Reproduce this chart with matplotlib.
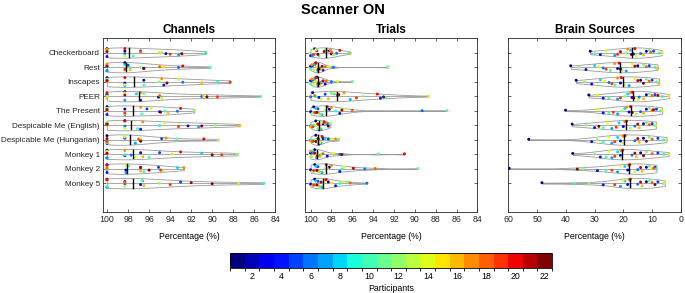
"""
Scanner ON: per-participant channel / trial / brain-source retention as violins.
"""

from __future__ import annotations

import matplotlib

matplotlib.use("Agg")
import matplotlib.pyplot as plt
import numpy as np
from matplotlib.colors import BoundaryNorm
from matplotlib.cm import ScalarMappable

plt.rcParams["font.family"] = ["Liberation Sans", "DejaVu Sans"]

CONDITIONS = [
    "Checkerboard", "Rest", "Inscapes", "PEER", "The Present",
    "Despicable Me (English)", "Despicable Me (Hungarian)",
    "Monkey 1", "Monkey 2", "Monkey 5",
]
N_PARTICIPANTS = 22

# values per condition, listed in participant order (1..22)
channels = [
    [100, 98.3, 94.4, 100, 96.8, 98.3, 93.2, 100, 90.6, 97.5, 100, 94.8, 98.3, 100, 95.0, 92.8, 100, 96.8, 94.0, 98.3, 100, 92.9],
    [98.3, 100, 96.5, 100, 98.0, 93.2, 100, 98.3, 97.8, 90.2, 100, 96.8, 98.3, 100, 94.6, 97.8, 100, 95.0, 98.3, 92.8, 100, 96.5],
    [100, 96.5, 98.3, 94.6, 100, 92.8, 98.3, 100, 89.5, 96.5, 100, 95.0, 98.3, 93.2, 100, 91.0, 94.8, 100, 88.3, 98.3, 100, 94.3],
    [98.3, 100, 95.1, 96.8, 100, 91.0, 98.3, 97.2, 100, 85.4, 96.5, 100, 94.8, 98.3, 90.8, 100, 96.8, 95.0, 89.5, 100, 98.3, 90.5],
    [100, 98.3, 95.0, 100, 96.2, 93.3, 98.3, 100, 94.5, 96.7, 100, 91.7, 98.3, 95.8, 100, 94.2, 96.8, 100, 98.3, 93.0, 100, 94.9],
    [98.3, 100, 92.3, 96.8, 100, 98.3, 91.3, 100, 95.0, 97.1, 100, 89.7, 98.3, 94.5, 100, 87.4, 96.6, 100, 93.2, 98.3, 100, 91.0],
    [100, 98.3, 96.8, 100, 94.8, 100, 97.3, 98.3, 96.8, 100, 93.4, 100, 89.4, 98.3, 96.8, 100, 94.4, 97.0, 100, 90.8, 100, 96.8],
    [100, 96.8, 98.3, 100, 95.0, 97.7, 100, 91.0, 98.3, 96.0, 100, 87.6, 97.3, 100, 93.8, 96.6, 98.3, 100, 89.1, 93.0, 100, 90.0],
    [100, 96.8, 98.2, 100, 95.1, 100, 98.2, 93.3, 100, 96.5, 97.9, 100, 94.7, 98.2, 100, 96.8, 92.7, 100, 94.9, 100, 96.8, 96.0],
    [100, 98.3, 96.8, 100, 93.0, 98.3, 100, 96.6, 85.1, 100, 96.7, 95.0, 98.3, 100, 87.5, 96.5, 100, 98.3, 94.0, 100, 92.0, 90.0],
]

trials = [
    [99.6, 98.3, 98.0, 100, 99.4, 97.5, 99.8, 98.5, 96.3, 99.2, 98.6, 100, 97.8, 99.5, 98.4, 96.2, 98.1, 98.0, 99.7, 97.2, 98.7, 99.3],
    [99.5, 100, 99.1, 98.8, 99.8, 97.8, 99.3, 99.6, 98.9, 100, 92.6, 99.2, 99.7, 98.2, 99.4, 99.0, 99.9, 98.6, 99.3, 99.5, 98.9, 99.2],
    [99.4, 100, 99.0, 98.6, 99.8, 98.0, 99.3, 99.6, 98.9, 100, 96.0, 99.2, 99.7, 97.4, 99.5, 99.1, 99.9, 98.5, 99.3, 99.5, 98.8, 99.2],
    [99.8, 97.3, 99.2, 93.3, 98.6, 100, 96.2, 97.7, 99.5, 92.8, 98.0, 95.0, 99.0, 97.6, 88.7, 98.3, 96.8, 99.6, 95.6, 93.6, 97.4, 93.0],
    [99.7, 98.2, 100, 97.2, 99.3, 89.3, 98.9, 99.5, 97.6, 99.0, 86.9, 98.6, 99.8, 96.8, 98.5, 99.2, 98.0, 96.0, 99.6, 98.4, 97.0, 99.4],
    [99.5, 98.8, 100, 99.2, 98.4, 99.7, 99.0, 98.6, 99.9, 99.3, 98.1, 99.6, 99.1, 98.9, 99.4, 100, 98.5, 99.2, 99.8, 98.7, 99.3, 98.3],
    [99.5, 98.8, 100, 99.2, 98.3, 99.7, 99.0, 98.6, 99.9, 99.3, 97.3, 99.6, 99.1, 98.0, 99.4, 100, 97.6, 99.2, 99.8, 98.9, 99.3, 99.5],
    [99.6, 100, 99.2, 98.4, 99.8, 97.2, 99.4, 99.7, 99.0, 100, 93.5, 99.3, 99.9, 97.8, 99.5, 99.1, 100, 98.8, 99.4, 91.0, 99.6, 97.0],
    [99.6, 98.2, 100, 97.2, 99.3, 94.8, 98.9, 99.5, 97.0, 99.1, 89.7, 98.6, 99.8, 96.8, 98.4, 99.2, 98.0, 93.8, 99.7, 98.5, 95.9, 99.4],
    [99.6, 98.3, 100, 97.6, 99.3, 94.6, 98.9, 99.5, 97.2, 99.1, 96.5, 98.8, 99.8, 96.9, 98.0, 99.2, 98.6, 96.2, 99.7, 98.5, 99.0, 99.4],
]

brain_sources = [
    [31.5, 12.0, 16.5, 28.0, 9.5, 14.0, 23.0, 17.5, 7.5, 30.0, 11.0, 19.0, 15.5, 26.0, 6.7, 13.0, 18.5, 10.5, 22.0, 16.0, 21.0, 17.2],
    [38.3, 15.0, 22.0, 33.0, 11.0, 27.0, 19.0, 30.0, 9.0, 24.5, 13.0, 35.5, 20.5, 17.0, 28.5, 8.1, 23.0, 12.0, 26.0, 21.5, 16.0, 21.0],
    [36.4, 14.0, 21.0, 31.0, 10.0, 25.0, 18.0, 28.0, 8.5, 23.0, 12.0, 33.5, 19.5, 16.0, 26.5, 7.6, 22.0, 11.0, 24.0, 20.7, 15.0, 13.0],
    [32.0, 12.0, 17.0, 27.0, 9.0, 14.5, 22.0, 18.5, 6.5, 25.0, 11.0, 19.5, 15.0, 29.0, 4.2, 13.0, 17.5, 10.0, 21.0, 16.8, 8.0, 16.4],
    [40.1, 12.0, 18.0, 27.0, 8.5, 14.0, 22.0, 19.5, 7.0, 25.0, 11.0, 20.5, 15.5, 29.0, 6.5, 13.0, 18.8, 10.0, 23.5, 17.5, 9.5, 16.9],
    [37.8, 13.0, 20.0, 30.0, 10.0, 16.0, 24.0, 21.5, 9.0, 27.0, 12.0, 33.0, 17.5, 25.5, 8.7, 14.5, 19.5, 11.0, 22.5, 18.9, 15.0, 28.5],
    [52.9, 13.0, 21.0, 31.0, 8.0, 16.0, 24.0, 22.0, 6.0, 27.0, 11.0, 29.0, 20.0, 25.0, 5.0, 14.5, 20.2, 10.0, 23.0, 19.4, 15.0, 12.0],
    [37.6, 14.0, 21.0, 28.0, 8.0, 17.0, 24.0, 22.0, 6.0, 26.0, 12.0, 30.0, 20.6, 25.0, 4.2, 15.5, 20.8, 10.0, 23.0, 20.2, 16.0, 13.0],
    [59.7, 12.0, 18.5, 29.0, 9.0, 15.0, 22.0, 19.5, 8.5, 26.0, 11.0, 34.0, 16.0, 21.0, 10.0, 13.5, 18.2, 9.5, 24.0, 17.8, 14.0, 36.0],
    [48.3, 12.0, 18.5, 27.0, 8.0, 15.0, 21.0, 19.5, 6.0, 37.0, 11.0, 32.0, 17.5, 20.0, 5.6, 13.5, 18.0, 10.0, 23.0, 17.6, 14.0, 9.0],
]

PANELS = [
    ("Channels", channels, (100.4, 84), np.arange(100, 83, -2)),
    ("Trials", trials, (100.55, 84), np.arange(100, 83, -2)),
    ("Brain Sources", brain_sources, (60, 0), np.arange(60, -1, -10)),
]
AX_LEFTS = [0.150, 0.445, 0.742]
AX_WIDTH = 0.252
AX_BOTTOM = 0.276
AX_HEIGHT = 0.594

HALF_WIDTH = 0.36
BW_SCALE = 1.5
OUTLINE = "#9a9a9a"


def _kde(values: np.ndarray, grid: np.ndarray) -> np.ndarray:
    """Gaussian KDE (widened Silverman bandwidth), scaled to a peak of 1."""
    n = len(values)
    q75, q25 = np.percentile(values, [75, 25])
    sig = min(values.std(ddof=1), (q75 - q25) / 1.34)
    if sig <= 0:
        sig = values.std(ddof=1)
    bw = BW_SCALE * 0.9 * sig * n ** -0.2
    dens = np.exp(-0.5 * ((grid[:, None] - values[None, :]) / bw) ** 2).sum(axis=1)
    return dens / dens.max()


def draw_violins(ax, rows, cmap) -> None:
    # deterministic spread of the dots across the violin width
    spread = np.array([((i * 7) % N_PARTICIPANTS) / (N_PARTICIPANTS - 1) * 2 - 1
                       for i in range(N_PARTICIPANTS)])
    colors = [cmap(i) for i in range(N_PARTICIPANTS)]
    for k, vals in enumerate(rows):
        y0 = k + 1
        v = np.asarray(vals, dtype=float)
        grid = np.linspace(v.min(), v.max(), 200)
        d = _kde(v, grid)
        ax.fill_between(grid, y0 - HALF_WIDTH * d, y0 + HALF_WIDTH * d,
                        facecolor="white", edgecolor=OUTLINE, linewidth=0.6, zorder=2)
        ax.plot([v.min(), v.max()], [y0, y0], color=OUTLINE, linewidth=0.6, zorder=2)
        dv = np.interp(v, grid, d)
        ys = y0 + spread * HALF_WIDTH * dv * 0.85
        ax.scatter(v, ys, s=4.5, c=colors, marker="o", linewidths=0, zorder=3)
        med = np.median(v)
        hl = 0.85 * HALF_WIDTH * np.interp(med, grid, d)
        ax.plot([med, med], [y0 - hl, y0 + hl], color="black", linewidth=1.0, zorder=4)


def main() -> None:
    fig = plt.figure(figsize=(6.85, 2.93), dpi=100)
    cmap = plt.get_cmap("jet", N_PARTICIPANTS)

    for i, (title, rows, xlim, xticks) in enumerate(PANELS):
        ax = fig.add_axes([AX_LEFTS[i], AX_BOTTOM, AX_WIDTH, AX_HEIGHT])
        draw_violins(ax, rows, cmap)
        ax.set_xlim(*xlim)
        ax.set_ylim(12, 0)
        ax.set_xticks(xticks)
        ax.set_yticks(np.arange(1, len(CONDITIONS) + 1))
        if i == 0:
            ax.set_yticklabels(CONDITIONS, fontsize=5.9)
        else:
            ax.set_yticklabels([])
        ax.tick_params(direction="in", length=2, width=0.5, labelsize=6.3,
                       top=True, right=True, pad=2, colors="#262626")
        ax.tick_params(axis="y", labelsize=5.9)
        for sp in ax.spines.values():
            sp.set_color("#262626")
            sp.set_linewidth(0.6)
        ax.set_title(title, fontsize=8.5, fontweight="bold", pad=4)
        ax.set_xlabel("Percentage (%)", fontsize=6.3, labelpad=6)

    fig.text(0.5, 0.966, "Scanner ON", ha="center", va="center",
             fontsize=10.5, fontweight="bold")

    cax = fig.add_axes([0.336, 0.085, 0.470, 0.051])
    norm = BoundaryNorm(np.arange(0.5, N_PARTICIPANTS + 1.5), N_PARTICIPANTS)
    sm = ScalarMappable(norm=norm, cmap=cmap)
    cb = fig.colorbar(sm, cax=cax, orientation="horizontal",
                      ticks=np.arange(2, N_PARTICIPANTS + 1, 2))
    cb.outline.set_linewidth(0.6)
    cax.tick_params(length=0, labelsize=6.3, pad=3)
    cb.set_label("Participants", fontsize=6.3, labelpad=2)

    fig.savefig("out.png", dpi=100)
    plt.close(fig)


if __name__ == "__main__":
    main()
